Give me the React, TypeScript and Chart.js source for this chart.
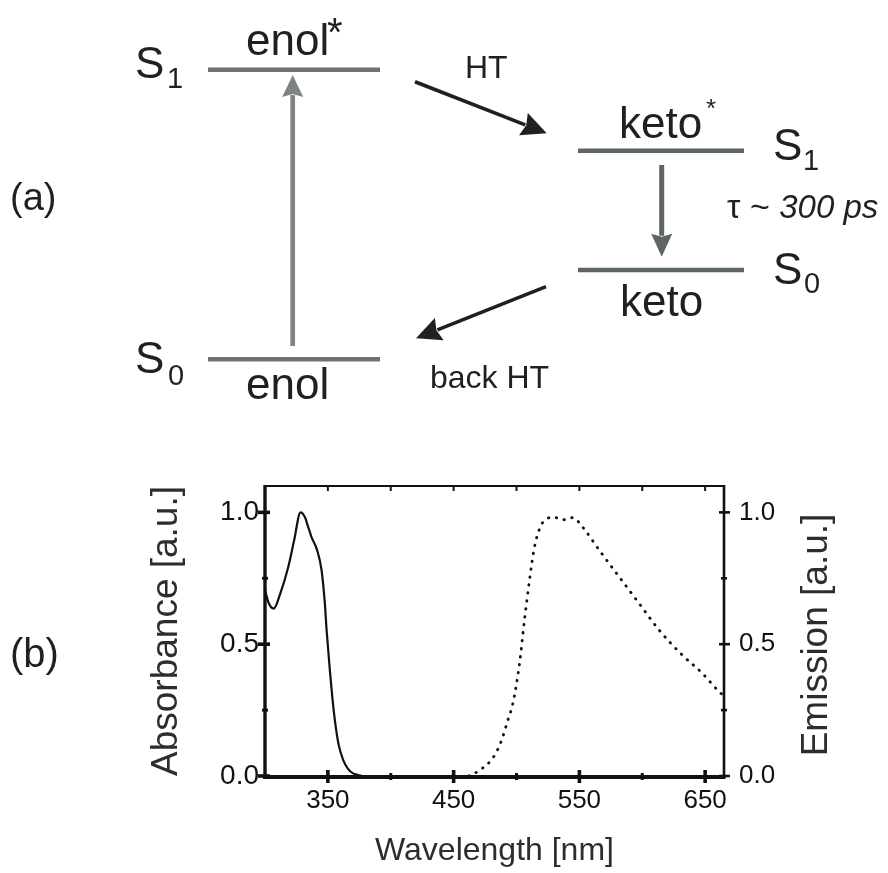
import React, { useEffect, useRef } from 'react';
import { Chart, registerables } from 'chart.js';

Chart.register(...registerables);

const FONT = "'Liberation Sans', Arial, Helvetica, sans-serif";
Chart.defaults.font.family = FONT;

// ---------- (a) energy level diagram (diagram units) ----------
const levelLabels = ['enol*', 'enol', 'keto*', 'keto'];
const levelStart = [208, 208, 578, 578];
const levelEnd = [380, 380, 744, 744];
const levelHeight = [69.7, 359.3, 150.7, 270];

const arrowNames = ['excitation', 'HT', 'decay', 'back HT'];
const arrowFromX = [292.7, 415, 661.7, 546];
const arrowFromY = [346, 81.7, 165, 286.7];
const arrowToX = [292.7, 546.7, 661.7, 416];
const arrowToY = [75, 133.3, 256.7, 338.3];

// ---------- (b) spectra ----------
const absWavelength = [300, 303, 307, 312, 318.5, 323, 328.3, 331.7, 334, 337, 341.5, 345, 347.6, 349, 351.6, 353.5, 355.6, 358.5, 362.2, 366, 370, 374, 378, 390, 420, 500, 665];
const absorbance = [0.705, 0.655, 0.635, 0.69, 0.793, 0.89, 1.0, 0.982, 0.95, 0.906, 0.856, 0.78, 0.654, 0.553, 0.40, 0.30, 0.21, 0.12, 0.06, 0.027, 0.01, 0.004, 0.0, 0.0, 0.0, 0.0, 0.0];

const emWavelength = [462, 466.7, 473, 479.9, 485, 489.1, 493, 497.1, 502.4, 506.3, 510.3, 514.3, 519.6, 524, 528.8, 533, 538.1, 544.7, 552.6, 565.9, 581.7, 597.6, 613.5, 632, 647.9, 659.8, 664];
const emission = [0.0, 0.01, 0.03, 0.06, 0.1, 0.149, 0.21, 0.275, 0.427, 0.59, 0.742, 0.869, 0.951, 0.975, 0.982, 0.978, 0.972, 0.98, 0.944, 0.856, 0.755, 0.654, 0.553, 0.458, 0.389, 0.326, 0.307];

const xMajorTicks = [350, 450, 550, 650];
const xMinorTicks = [400, 500, 600];
const xTopTicks = [350, 400, 450, 500, 550, 600, 650];
const yMajorTicks = [0, 0.5, 1.0];
const yMinorTicks = [0.25, 0.75];

// ---------- styles ----------
const levelColors = ['#6d7372', '#6d7372', '#5e6664', '#5e6664'];
const arrowStyle = [
  { color: '#7e8383', width: 4.7, head: 22, half: 10.5 },
  { color: '#231f20', width: 3.6, head: 25, half: 12 },
  { color: '#5e6664', width: 5, head: 23, half: 10.5 },
  { color: '#231f20', width: 3.6, head: 25, half: 12 },
];
const TEXT = '#231f20';

type Label = { t: string; x: number; y: number; size: number; italic?: boolean };
const diagramText: Label[] = [
  { t: '(a)', x: 10, y: 210, size: 38 },
  { t: 'S', x: 135, y: 78, size: 44 },
  { t: '1', x: 167, y: 88, size: 29 },
  { t: 'S', x: 135, y: 373, size: 44 },
  { t: '0', x: 168, y: 385, size: 29 },
  { t: 'enol', x: 246, y: 55, size: 44 },
  { t: '*', x: 327, y: 46, size: 40 },
  { t: 'enol', x: 246, y: 399, size: 44 },
  { t: 'keto', x: 619, y: 138, size: 44 },
  { t: '*', x: 706, y: 117, size: 26 },
  { t: 'keto', x: 620, y: 316, size: 44 },
  { t: 'S', x: 773, y: 160, size: 44 },
  { t: '1', x: 803, y: 170, size: 29 },
  { t: 'S', x: 773, y: 284, size: 44 },
  { t: '0', x: 804, y: 293, size: 29 },
  { t: 'HT', x: 465, y: 78, size: 32 },
  { t: 'back HT', x: 430, y: 388, size: 32 },
  { t: 'τ ~ ', x: 727, y: 218, size: 34 },
  { t: '300 ps', x: 727, y: 218, size: 33, italic: true },
];

const diagramPlugin = {
  id: 'diagramDecor',
  afterDatasetsDraw(chart: any) {
    const { ctx, scales } = chart;
    const sx = scales.x, sy = scales.y;
    ctx.save();
    arrowNames.forEach((_, i) => {
      const st = arrowStyle[i];
      const x0 = sx.getPixelForValue(arrowFromX[i]);
      const y0 = sy.getPixelForValue(arrowFromY[i]);
      const x1 = sx.getPixelForValue(arrowToX[i]);
      const y1 = sy.getPixelForValue(arrowToY[i]);
      const a = Math.atan2(y1 - y0, x1 - x0);
      const c = Math.cos(a), s = Math.sin(a);
      const bx = x1 - st.head * c, by = y1 - st.head * s;
      ctx.strokeStyle = st.color;
      ctx.lineWidth = st.width;
      ctx.lineCap = 'butt';
      ctx.beginPath();
      ctx.moveTo(x0, y0);
      ctx.lineTo(bx + 2 * c, by + 2 * s);
      ctx.stroke();
      ctx.fillStyle = st.color;
      ctx.beginPath();
      ctx.moveTo(x1, y1);
      ctx.lineTo(bx - st.half * s, by + st.half * c);
      ctx.lineTo(bx + 3 * c, by + 3 * s);
      ctx.lineTo(bx + st.half * s, by - st.half * c);
      ctx.closePath();
      ctx.fill();
    });
    ctx.fillStyle = TEXT;
    ctx.textBaseline = 'alphabetic';
    ctx.textAlign = 'left';
    let prevEnd = 0;
    diagramText.forEach((l, i) => {
      ctx.font = `${l.italic ? 'italic ' : ''}${l.size}px ${FONT}`;
      let x = l.x;
      if (l.italic && i > 0) x = prevEnd;
      ctx.fillText(l.t, x, l.y);
      prevEnd = x + ctx.measureText(l.t).width;
    });
    ctx.restore();
  },
};

const spectrumPlugin = {
  id: 'spectrumDecor',
  afterDraw(chart: any) {
    const { ctx, chartArea, scales } = chart;
    const { left, right, top, bottom } = chartArea;
    const sx = scales.x, sy = scales.y;
    const line = (x0: number, y0: number, x1: number, y1: number, w: number) => {
      ctx.lineWidth = w;
      ctx.beginPath();
      ctx.moveTo(x0, y0);
      ctx.lineTo(x1, y1);
      ctx.stroke();
    };
    ctx.save();
    ctx.strokeStyle = '#111';
    ctx.lineCap = 'butt';
    // frame
    line(left - 1, top, right + 1, top, 2);
    line(right, top - 1, right, bottom + 2, 2.6);
    line(left, top - 1, left, bottom + 3, 3.4);
    line(left - 2, bottom + 1, right + 1.5, bottom + 1, 4);
    // bottom ticks
    xMajorTicks.forEach((v) => { const p = sx.getPixelForValue(v); line(p, bottom - 6, p, bottom + 7, 3.6); });
    xMinorTicks.forEach((v) => { const p = sx.getPixelForValue(v); line(p, bottom - 3, p, bottom + 4, 3); });
    // top ticks
    xTopTicks.forEach((v) => { const p = sx.getPixelForValue(v); line(p, top, p, top + 5, 2); });
    // left ticks
    yMajorTicks.forEach((v) => { const p = sy.getPixelForValue(v); line(left - 7, p, left + 5, p, 3.6); });
    yMinorTicks.forEach((v) => { const p = sy.getPixelForValue(v); line(left - 3, p, left + 3, p, 3); });
    // right ticks
    yMajorTicks.forEach((v) => { const p = sy.getPixelForValue(v); line(right - 5, p, right + 6, p, 2.6); });
    yMinorTicks.forEach((v) => { const p = sy.getPixelForValue(v); line(right - 3, p, right + 3, p, 2.6); });
    // right axis title (reads bottom to top)
    ctx.fillStyle = '#2d2d2d';
    ctx.translate(817, (top + bottom) / 2 + 4);
    ctx.rotate(-Math.PI / 2);
    ctx.font = `37px ${FONT}`;
    ctx.textAlign = 'center';
    ctx.textBaseline = 'middle';
    ctx.fillText('Emission [a.u.]', 0, 0);
    ctx.restore();
    // panel label
    ctx.save();
    ctx.fillStyle = TEXT;
    ctx.font = `40px ${FONT}`;
    ctx.textBaseline = 'alphabetic';
    ctx.textAlign = 'left';
    ctx.fillText('(b)', 10, 227);
    ctx.restore();
  },
};

const hiddenGrid = { display: false, drawTicks: false };

export default function App() {
  const topRef = useRef<HTMLCanvasElement>(null);
  const botRef = useRef<HTMLCanvasElement>(null);

  useEffect(() => {
    const diagram = new Chart(topRef.current as HTMLCanvasElement, {
      type: 'scatter',
      data: {
        datasets: levelLabels.map((name, i) => ({
          label: name,
          data: [
            { x: levelStart[i], y: levelHeight[i] },
            { x: levelEnd[i], y: levelHeight[i] },
          ],
          showLine: true,
          borderColor: levelColors[i],
          borderWidth: 4.6,
          borderCapStyle: 'butt',
          pointRadius: 0,
          fill: false,
        })),
      },
      options: {
        animation: false,
        responsive: false,
        devicePixelRatio: 1,
        events: [],
        layout: { padding: 0 },
        scales: {
          x: { type: 'linear', min: 0, max: 888, display: false },
          y: { type: 'linear', min: 0, max: 440, reverse: true, display: false },
        },
        plugins: { legend: { display: false }, tooltip: { enabled: false } },
      } as any,
      plugins: [diagramPlugin],
    });

    const spectrum = new Chart(botRef.current as HTMLCanvasElement, {
      type: 'line',
      data: {
        datasets: [
          {
            label: 'Absorbance',
            data: absWavelength.map((x, i) => ({ x, y: absorbance[i] })),
            borderColor: '#111',
            borderWidth: 2.2,
            pointRadius: 0,
            cubicInterpolationMode: 'monotone',
            fill: false,
            yAxisID: 'y',
          },
          {
            label: 'Emission',
            data: emWavelength.map((x, i) => ({ x, y: emission[i] })),
            borderColor: '#111',
            borderWidth: 2.8,
            borderDash: [0.5, 7.5],
            borderCapStyle: 'round',
            pointRadius: 0,
            cubicInterpolationMode: 'monotone',
            fill: false,
            yAxisID: 'y2',
          },
        ],
      },
      options: {
        animation: false,
        responsive: false,
        devicePixelRatio: 1,
        events: [],
        layout: { padding: { left: 140, right: 40, top: 46, bottom: 0 } },
        scales: {
          x: {
            type: 'linear',
            position: 'bottom',
            min: 300,
            max: 665,
            grid: hiddenGrid,
            border: { display: false },
            afterBuildTicks: (s: any) => { s.ticks = xMajorTicks.map((v) => ({ value: v })); },
            afterFit: (s: any) => { s.height = 97; },
            ticks: { autoSkip: false, maxRotation: 0, padding: 9, color: '#111', font: { size: 26 }, callback: (v: any) => String(v) },
            title: { display: true, text: 'Wavelength [nm]', color: '#2d2d2d', font: { size: 32 }, padding: { top: 0, bottom: 3 } },
          },
          y: {
            type: 'linear',
            position: 'left',
            min: 0,
            max: 1.1,
            grid: hiddenGrid,
            border: { display: false },
            afterBuildTicks: (s: any) => { s.ticks = yMajorTicks.map((v) => ({ value: v })); },
            afterFit: (s: any) => { s.width = 125; },
            ticks: { padding: 6, color: '#111', font: { size: 28 }, callback: (v: any) => Number(v).toFixed(1) },
            title: { display: true, text: 'Absorbance [a.u.]', color: '#2d2d2d', font: { size: 37 }, padding: { top: 5, bottom: 0 } },
          },
          y2: {
            type: 'linear',
            position: 'right',
            min: 0,
            max: 1.1,
            grid: hiddenGrid,
            border: { display: false },
            afterBuildTicks: (s: any) => { s.ticks = yMajorTicks.map((v) => ({ value: v })); },
            afterFit: (s: any) => { s.width = 124; },
            ticks: { padding: 15, color: '#111', font: { size: 26 }, callback: (v: any) => Number(v).toFixed(1) },
          },
        },
        plugins: { legend: { display: false }, tooltip: { enabled: false } },
      } as any,
      plugins: [spectrumPlugin],
    });

    return () => {
      diagram.destroy();
      spectrum.destroy();
    };
  }, []);

  return (
    <div style={{ position: 'absolute', left: 0, top: 0, width: 888, height: 873, background: '#ffffff' }}>
      <canvas ref={topRef} width={888} height={440} style={{ position: 'absolute', left: 0, top: 0, width: 888, height: 440 }} />
      <canvas ref={botRef} width={888} height={433} style={{ position: 'absolute', left: 0, top: 440, width: 888, height: 433 }} />
    </div>
  );
}
